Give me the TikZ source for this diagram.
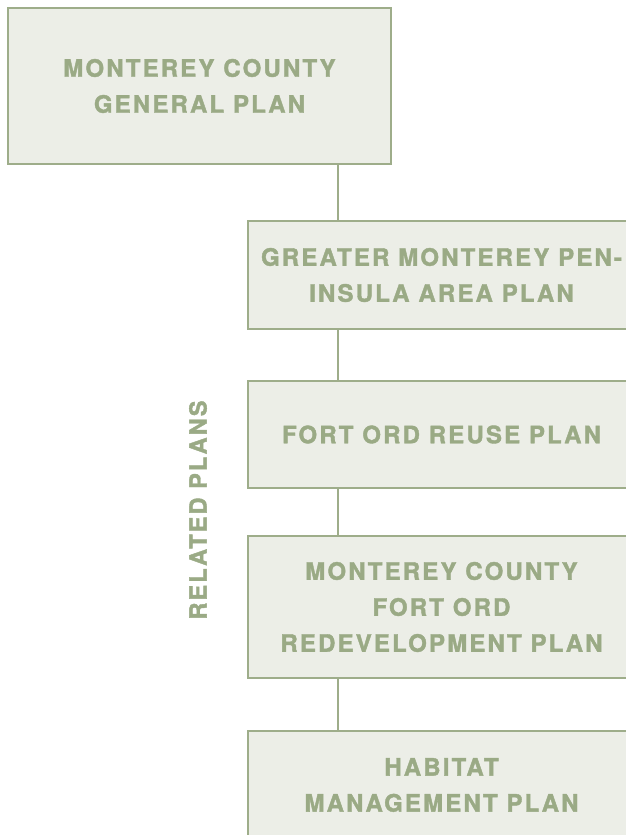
\documentclass[tikz,border=0pt]{standalone}
\usepackage{fontspec}
\usepackage{xcolor}
\usepackage{tikz}
\usetikzlibrary{positioning}
\newfontfamily\plansfont[LetterSpace=9, BoldFeatures={FakeBold=1.6}]{TeX Gyre Heros}
\definecolor{sageline}{HTML}{9EAD8A}
\definecolor{sagetext}{HTML}{9AAA85}
\definecolor{sagefill}{HTML}{ECEEE7}
\begin{document}
\begin{tikzpicture}[x=1pt, y=1pt,
    plan box/.style={draw=sageline, fill=sagefill, line width=2pt, rectangle, minimum width=388pt, align=center, text=sagetext, font=\plansfont\bfseries\fontsize{24}{36}\selectfont, inner sep=0pt},
    plan link/.style={draw=sageline, line width=2pt}]
    \useasboundingbox (0,0) rectangle (626,-835);
    \coordinate (spine) at (338,0);
    \node[plan box, minimum width=383pt, minimum height=156pt] (gplan) at (199.5,-86) {MONTEREY COUNTY\\GENERAL PLAN};
    \node[plan box, minimum height=108pt, anchor=north west] (gmpap) at (246.5,-220) {GREATER MONTEREY PEN-\\INSULA AREA PLAN};
    \node[plan box, minimum height=107pt, below=50pt of gmpap] (reuse) {FORT ORD REUSE PLAN};
    \node[plan box, minimum height=142pt, below=46pt of reuse] (redev) {MONTEREY COUNTY\\FORT ORD\\REDEVELOPMENT PLAN};
    \node[plan box, minimum height=108pt, below=51pt of redev] (habitat) {HABITAT\\MANAGEMENT PLAN};
    \node[rotate=90, text=sagetext, font=\plansfont\bfseries\fontsize{23.5}{36}\selectfont] (related) at (198,-510) {RELATED PLANS};

    \draw[plan link] (gplan.south -| spine) -- (gmpap.north -| spine);
    \draw[plan link] (gmpap.south -| spine) -- (reuse.north -| spine);
    \draw[plan link] (reuse.south -| spine) -- (redev.north -| spine);
    \draw[plan link] (redev.south -| spine) -- (habitat.north -| spine);
\end{tikzpicture}
\end{document}
